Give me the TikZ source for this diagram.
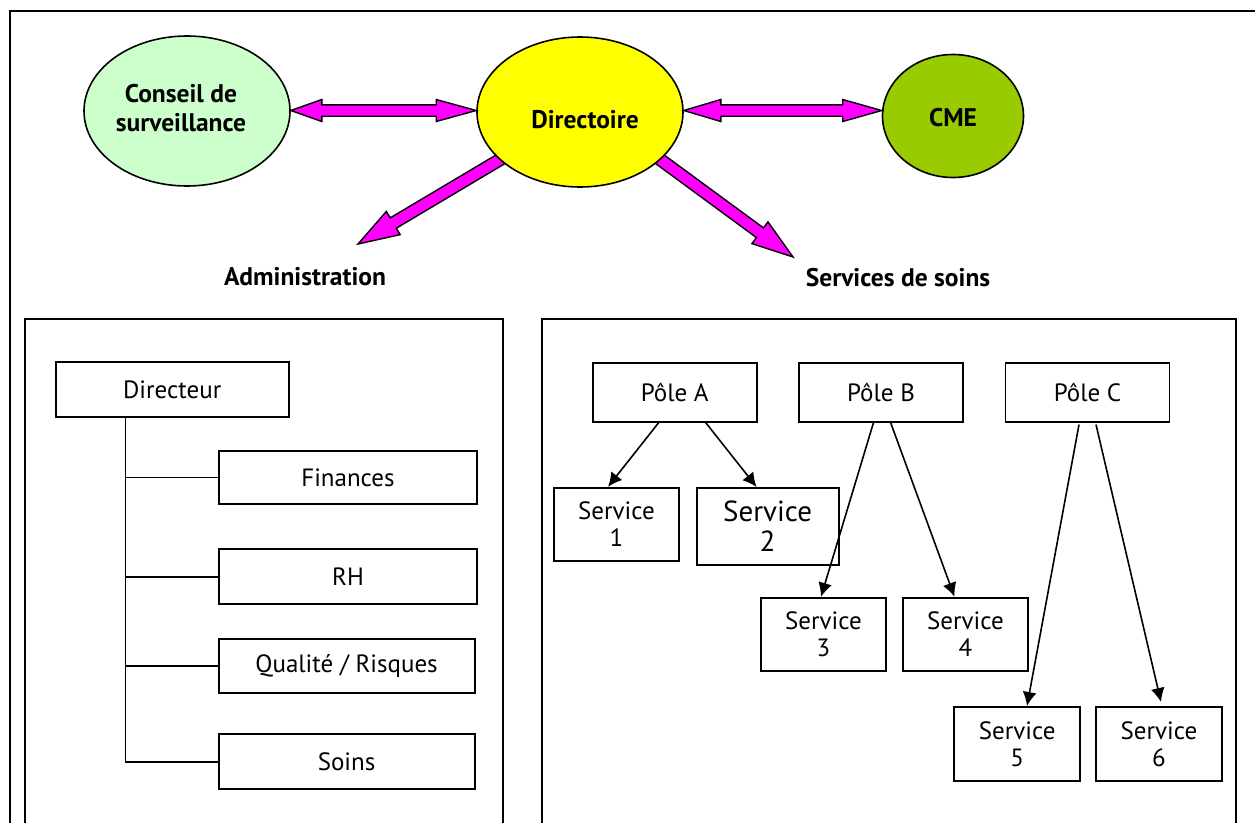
\documentclass[tikz,border=0pt]{standalone}
\usepackage{fontspec}
\setmainfont{PT Sans}
\usetikzlibrary{shapes.geometric,arrows.meta,calc}
\definecolor{councilgreen}{HTML}{CCFFCC}
\definecolor{boardyellow}{HTML}{FFFF00}
\definecolor{cmegreen}{HTML}{99CC00}
\definecolor{flowpink}{HTML}{FF00FF}

% single fat arrow: #1 tail, #2 tip, #3 shaft half width, #4 head length, #5 head half width
\newcommand\fatsingle[5]{%
  \coordinate (fq) at ($(#2)!#4!(#1)$);
  \draw[fatflow] ($(#1)!#3!90:(#2)$) -- ($(fq)!#3!-90:(#1)$) -- ($(fq)!#5!-90:(#1)$)
    -- (#2) -- ($(fq)!#5!90:(#1)$) -- ($(fq)!#3!90:(#1)$) -- ($(#1)!#3!-90:(#2)$) -- cycle;}
% double fat arrow: #1, #2 tips, #3 shaft half, #4 head at #1, #5 head at #2, #6 head half width
\newcommand\fatdouble[6]{%
  \coordinate (fa) at ($(#1)!#4!(#2)$);
  \coordinate (fb) at ($(#2)!#5!(#1)$);
  \draw[fatflow] (#1) -- ($(fa)!#6!90:(#2)$) -- ($(fa)!#3!90:(#2)$) -- ($(fb)!#3!-90:(#1)$)
    -- ($(fb)!#6!-90:(#1)$) -- (#2) -- ($(fb)!#6!90:(#1)$) -- ($(fb)!#3!90:(#1)$)
    -- ($(fa)!#3!-90:(#2)$) -- ($(fa)!#6!-90:(#2)$) -- cycle;}

\begin{document}
\begin{tikzpicture}[x=1pt,y=-1pt,
  frame/.style={draw,line width=2pt},
  orgbox/.style={draw,line width=1.8pt,inner sep=0pt,align=center,
    font=\fontsize{25}{27}\selectfont},
  bubble/.style={draw,line width=1.6pt,ellipse,inner sep=0pt},
  bubbletext/.style={font=\bfseries\fontsize{25.5}{29}\selectfont,align=center},
  fatflow/.style={draw=black,fill=flowpink,line width=1.4pt,line join=miter},
  link/.style={line width=1.8pt},
  pointer/.style={line width=1.6pt,-{Latex[length=14pt,width=14pt]}}]
\useasboundingbox (0,0) rectangle (1255,822);

% frames
\draw[frame] (10,860) -- (10,11) -- (1265,11);
\draw[frame] (24.8,860) -- (24.8,319) -- (502.8,319) -- (502.8,860);
\draw[frame] (541.6,860) -- (541.6,319) -- (1236.4,319) -- (1236.4,860);

% governance
\node[bubble,fill=councilgreen,minimum width=206pt,minimum height=150pt] (cons) at (187,111) {};
\node[bubbletext] (consT) at (181,108.5) {Conseil de\\surveillance};
\coordinate (svcTail) at (635,141);
\coordinate (admTip) at (358,244);
\coordinate (svcTip) at (793,257);
\coordinate (dirC) at (580,112);
\fatsingle{dirC}{admTip}{6pt}{41pt}{13.5pt}
\fatsingle{svcTail}{svcTip}{6pt}{41pt}{13.5pt}
\node[bubble,fill=boardyellow,minimum width=206pt,minimum height=150pt] (dir) at (580,112) {};
\node[bubbletext] (dirT) at (585,120) {Directoire};
\node[bubble,fill=cmegreen,minimum width=141pt,minimum height=123pt] (cme) at (953,116) {};
\node[bubbletext] (cmeT) at (953,118) {CME};
\coordinate (lk1) at ($(dir.west)+(0,-1.5)$);
\coordinate (lk2) at ($(dir.east)+(0,-1.5)$);
\fatdouble{cons.east |- lk1}{lk1}{5.7pt}{31pt}{40pt}{11pt}
\fatdouble{lk2}{cme.west |- lk2}{5.7pt}{37pt}{39pt}{11pt}

\node[bubbletext] (adm) at (305,277) {Administration};
\node[bubbletext] (svc) at (898,278) {Services de soins};

% administration chart
\node[orgbox,minimum width=233pt,minimum height=55pt] (dirc) at (172.2,389.5) {Directeur};
\node[orgbox,minimum width=258pt,minimum height=53pt] (fin) at (348,477.4) {Finances};
\node[orgbox,minimum width=258pt,minimum height=55pt] (rh) at (348,576.7) {RH};
\node[orgbox,minimum width=256pt,minimum height=54pt] (qual) at (346.6,665.9) {Qualité / Risques};
\node[orgbox,minimum width=256pt,minimum height=55pt] (soins) at (346.6,761.7) {Soins};
\coordinate (sp) at ($(dirc.south west)+(70.6,0)$);
\draw[link] (sp) |- (soins.west);
\draw[link] (fin.west) -- (fin.west -| sp);
\draw[link] (rh.west) -- (rh.west -| sp);
\draw[link] (qual.west) -- (qual.west -| sp);

% care services chart
\node[orgbox,minimum width=164pt,minimum height=59pt] (pa) at (674.7,392.2) {Pôle A};
\node[orgbox,minimum width=164pt,minimum height=59pt] (pb) at (881,392.2) {Pôle B};
\node[orgbox,minimum width=164pt,minimum height=59pt] (pc) at (1087.5,392.2) {Pôle C};
\node[orgbox,minimum width=125pt,minimum height=73pt] (s1) at (616.5,524.2) {Service\\1};
\node[orgbox,minimum width=142pt,minimum height=77pt,font=\fontsize{29}{30}\selectfont] (s2) at (767.6,526.4) {Service\\2};
\node[orgbox,minimum width=125pt,minimum height=73pt] (s3) at (823.4,634.2) {Service\\3};
\node[orgbox,minimum width=125pt,minimum height=73pt] (s4) at (965.5,634.2) {Service\\4};
\node[orgbox,minimum width=126pt,minimum height=74pt] (s5) at (1017.2,743.9) {Service\\5};
\node[orgbox,minimum width=126pt,minimum height=74pt] (s6) at (1159,743.9) {Service\\6};

\draw[pointer] ($(pa.south)+(-16,0)$) -- ($(s1.north)+(-8.5,0)$);
\draw[pointer] ($(pa.south)+(31,0)$) -- ($(s2.north)+(-11,0)$);
\draw[pointer] ($(pb.south)+(-7.5,0)$) -- ($(s3.north)+(-2.4,0)$);
\draw[pointer] ($(pb.south)+(9.6,0)$) -- ($(s4.north)+(-11,0)$);
\draw[pointer] ($(pc.south)+(-8.5,2)$) -- ($(s5.north)+(9.8,0)$);
\draw[pointer] ($(pc.south)+(8.5,2)$) -- ($(s6.north)+(2,-4)$);
\end{tikzpicture}
\end{document}
